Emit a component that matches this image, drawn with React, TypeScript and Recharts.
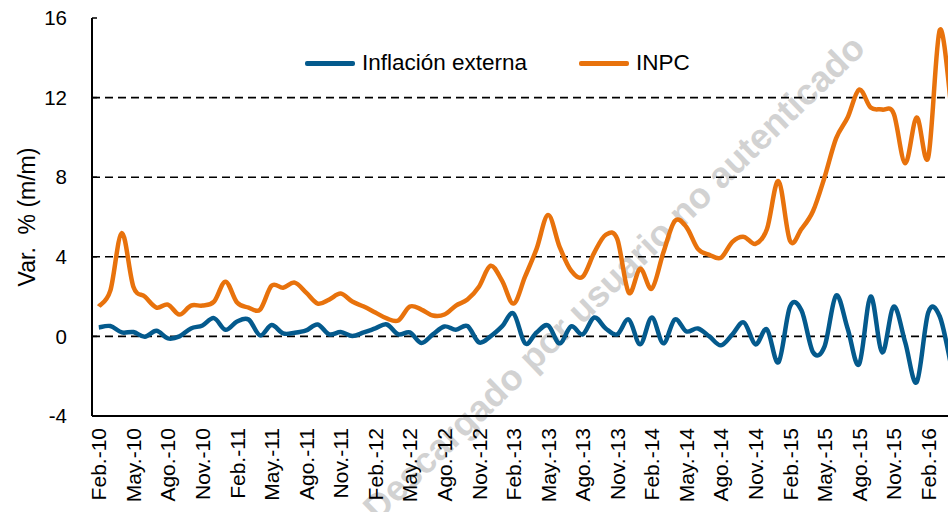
import { LineChart, Line, XAxis, YAxis, ReferenceLine } from 'recharts'

const FONT = '"Liberation Sans", Arial, sans-serif'

// month labels, Feb.-10 .. Abr.-16 (ticks shown every 3rd)
const months = [
  'Feb.-10', 'Mar.-10', 'Abr.-10', 'May.-10', 'Jun.-10', 'Jul.-10', 'Ago.-10', 'Sep.-10', 'Oct.-10', 'Nov.-10', 'Dic.-10',
  'Ene.-11', 'Feb.-11', 'Mar.-11', 'Abr.-11', 'May.-11', 'Jun.-11', 'Jul.-11', 'Ago.-11', 'Sep.-11', 'Oct.-11', 'Nov.-11', 'Dic.-11',
  'Ene.-12', 'Feb.-12', 'Mar.-12', 'Abr.-12', 'May.-12', 'Jun.-12', 'Jul.-12', 'Ago.-12', 'Sep.-12', 'Oct.-12', 'Nov.-12', 'Dic.-12',
  'Ene.-13', 'Feb.-13', 'Mar.-13', 'Abr.-13', 'May.-13', 'Jun.-13', 'Jul.-13', 'Ago.-13', 'Sep.-13', 'Oct.-13', 'Nov.-13', 'Dic.-13',
  'Ene.-14', 'Feb.-14', 'Mar.-14', 'Abr.-14', 'May.-14', 'Jun.-14', 'Jul.-14', 'Ago.-14', 'Sep.-14', 'Oct.-14', 'Nov.-14', 'Dic.-14',
  'Ene.-15', 'Feb.-15', 'Mar.-15', 'Abr.-15', 'May.-15', 'Jun.-15', 'Jul.-15', 'Ago.-15', 'Sep.-15', 'Oct.-15', 'Nov.-15', 'Dic.-15',
  'Ene.-16', 'Feb.-16', 'Mar.-16', 'Abr.-16',
]

const inflacionExterna = [
  0.45, 0.52, 0.2, 0.22, -0.02, 0.28, -0.1, 0.0, 0.4, 0.55, 0.92,
  0.33, 0.75, 0.85, 0.05, 0.57, 0.15, 0.18, 0.3, 0.6, 0.1, 0.22, 0.02,
  0.2, 0.4, 0.6, 0.1, 0.2, -0.33, 0.1, 0.5, 0.33, 0.52, -0.3, 0.0,
  0.5, 1.15, -0.35, 0.2, 0.55, -0.35, 0.5, 0.1, 0.95, 0.4, 0.1, 0.85,
  -0.4, 0.95, -0.35, 0.85, 0.25, 0.4, 0.0, -0.45, 0.1, 0.7, -0.4, 0.35,
  -1.3, 1.5, 1.3, -0.8, -0.5, 2.05, 0.4, -1.4, 2.0, -0.8, 1.5, -0.3,
  -2.3, 1.2, 1.0, -1.5,
]

const inpc = [
  1.5, 2.3, 5.2, 2.5, 2.0, 1.45, 1.6, 1.1, 1.55, 1.55, 1.75,
  2.75, 1.7, 1.45, 1.35, 2.55, 2.45, 2.7, 2.2, 1.65, 1.85, 2.15, 1.75,
  1.5, 1.2, 0.9, 0.8, 1.5, 1.35, 1.05, 1.1, 1.55, 1.85, 2.5, 3.55,
  2.8, 1.65, 3.0, 4.4, 6.1, 4.5, 3.3, 3.0, 4.2, 5.1, 4.9, 2.2,
  3.4, 2.4, 4.2, 5.8, 5.5, 4.4, 4.1, 3.95, 4.75, 5.0, 4.65, 5.4,
  7.8, 4.8, 5.4, 6.3, 8.0, 9.95, 11.0, 12.4, 11.5, 11.4, 11.2, 8.7,
  11.0, 9.0, 15.4, 11.5,
]

const yTicks = [-4, 0, 4, 8, 12, 16]
const gridValues = [0, 4, 8, 12]

const data = months.map((m, i) => ({ m, ext: inflacionExterna[i], inpc: inpc[i] }))

// Excel-like smoothed line (cubic bezier through points)
function smoothCurve(context: any) {
  let pts: number[][] = []
  return {
    areaStart() {},
    areaEnd() {},
    lineStart() {
      pts = []
    },
    point(x: number, y: number) {
      pts.push([+x, +y])
    },
    lineEnd() {
      if (!pts.length) return
      context.moveTo(pts[0][0], pts[0][1])
      for (let i = 0; i < pts.length - 1; i++) {
        const p0 = pts[i - 1] || pts[i]
        const p1 = pts[i]
        const p2 = pts[i + 1]
        const p3 = pts[i + 2] || p2
        context.bezierCurveTo(
          p1[0] + (p2[0] - p0[0]) / 6,
          p1[1] + (p2[1] - p0[1]) / 6,
          p2[0] - (p3[0] - p1[0]) / 6,
          p2[1] - (p3[1] - p1[1]) / 6,
          p2[0],
          p2[1],
        )
      }
    },
  }
}

const MonthTick = ({ x, y, payload }: any) => (
  <text
    x={x}
    y={y}
    transform={`rotate(-90 ${x} ${y})`}
    textAnchor="end"
    dy="0.36em"
    fontSize={21}
    fontFamily={FONT}
    fill="#000"
  >
    {payload.value}
  </text>
)

const LegendBox = () => (
  <div
    style={{
      position: 'absolute',
      left: 305,
      top: 50,
      height: 26,
      display: 'flex',
      alignItems: 'center',
      fontFamily: FONT,
      fontSize: 22.5,
      color: '#000',
      whiteSpace: 'nowrap',
    }}
  >
    <span style={{ width: 50, height: 5, background: '#045A8D', borderRadius: 2 }} />
    <span style={{ marginLeft: 7, marginRight: 52 }}>Inflación externa</span>
    <span style={{ width: 50, height: 5, background: '#E8720C', borderRadius: 2 }} />
    <span style={{ marginLeft: 7 }}>INPC</span>
  </div>
)

export default function App() {
  return (
    <div style={{ position: 'absolute', left: 0, top: 0, width: 948, height: 512, overflow: 'hidden', background: '#fff' }}>
      <div
        style={{
          position: 'absolute',
          left: 614,
          top: 278,
          transform: 'translate(-50%, -50%) rotate(-44deg)',
          whiteSpace: 'nowrap',
          fontFamily: FONT,
          fontWeight: 'bold',
          fontSize: 36,
          color: '#d2d2d2',
        }}
      >
        Descargado por usuario no autenticado
      </div>
      <div style={{ position: 'absolute', left: 0, top: 0 }}>
        <LineChart width={957} height={512} data={data} margin={{ top: 18, right: 0, bottom: 0, left: 0 }}>
          <XAxis
            dataKey="m"
            interval={2}
            height={96}
            tick={<MonthTick />}
            tickLine={false}
            tickMargin={6}
            axisLine={{ stroke: '#000', strokeWidth: 2 }}
            padding={{ left: 6.8, right: 5.7 }}
          />
          <YAxis
            width={92}
            domain={[-4, 16]}
            ticks={yTicks}
            interval={0}
            tickSize={-5}
            tickMargin={30}
            tickLine={{ stroke: '#000', strokeWidth: 1.5 }}
            axisLine={{ stroke: '#000', strokeWidth: 2 }}
            tick={{ fontSize: 20.5, fill: '#000', fontFamily: FONT }}
            label={{
              content: () => (
                <text
                  x={27}
                  y={217}
                  transform="rotate(-90 27 217)"
                  textAnchor="middle"
                  dominantBaseline="central"
                  fontSize={23}
                  fontFamily={FONT}
                  fill="#000"
                  style={{ whiteSpace: 'pre' }}
                >
                  {'Var.  % (m/m)'}
                </text>
              ),
            }}
          />
          {gridValues.map((v) => (
            <ReferenceLine key={v} y={v} stroke="#000" strokeWidth={1.6} strokeDasharray="8 5" />
          ))}
          <Line
            type={smoothCurve as any}
            dataKey="ext"
            stroke="#045A8D"
            strokeWidth={4.5}
            dot={false}
            isAnimationActive={false}
          />
          <Line
            type={smoothCurve as any}
            dataKey="inpc"
            stroke="#E8720C"
            strokeWidth={4.5}
            dot={false}
            isAnimationActive={false}
          />
        </LineChart>
      </div>
      <LegendBox />
    </div>
  )
}
